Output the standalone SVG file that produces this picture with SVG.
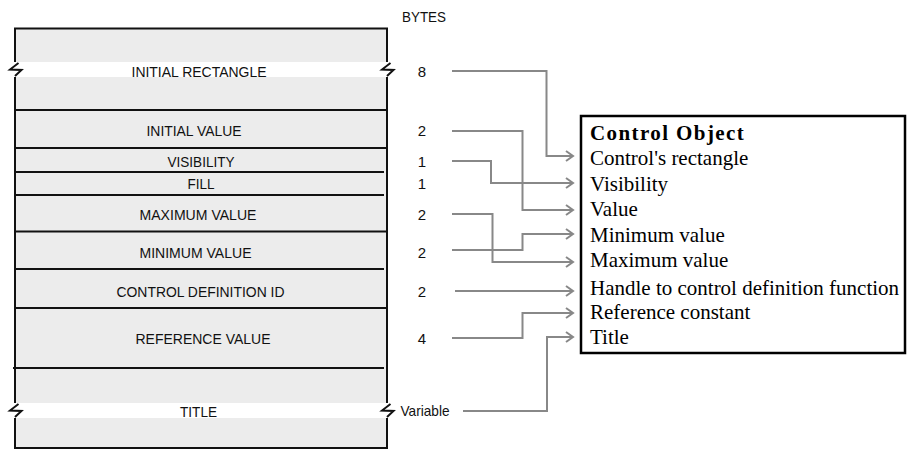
<svg xmlns="http://www.w3.org/2000/svg" width="907" height="449" viewBox="0 0 907 449">
<style>
.lbl{font-family:"Liberation Sans",Arial,sans-serif;font-size:15px;fill:#111;text-anchor:middle}
.sep{stroke:#111;stroke-width:2;fill:none}
.edge{stroke:#111;stroke-width:2;fill:none}
.conn{stroke:#888;stroke-width:2;fill:none}
.obj{font-family:"Liberation Serif","Times New Roman",serif;font-size:21px;fill:#000}
</style>
<defs>
<marker id="arr" markerUnits="userSpaceOnUse" markerWidth="12" markerHeight="14" refX="0" refY="0" orient="auto" viewBox="-10 -7 12 14">
<path d="M-7,-5 L0,0 L-7,5" fill="none" stroke="#888" stroke-width="2"/>
</marker>
</defs>
<rect width="907" height="449" fill="#fff"/>

<g id="record">
<rect x="15" y="28.5" width="372" height="33.5" fill="#ececec"/>
<rect x="15" y="77" width="372" height="326" fill="#ececec"/>
<rect x="15" y="418" width="372" height="30" fill="#ececec"/>
<path class="edge" d="M15,62 V28.5 H387 V62"/>
<path class="edge" d="M15,77 V403 M387,77 V403"/>
<path class="edge" d="M15,418 V448 H387 V418"/>
<path class="edge" d="M18.5,63 L10,69.5 L21.5,70 L15,76"/>
<path class="edge" d="M390.5,63 L382,69.5 L393.5,70 L387,76"/>
<path class="edge" d="M18.5,404 L10,410.5 L21.5,411 L15,417"/>
<path class="edge" d="M390.5,404 L382,410.5 L393.5,411 L387,417"/>
<path class="sep" d="M15,110 H387 M15,148 H387 M15,172 H384 M15,195 H384 M15,231.5 H387 M15,269 H384 M15,308 H387 M13,368 H384"/>
</g>

<g id="field-initial-rectangle"><text class="lbl" x="199" y="77" textLength="135" lengthAdjust="spacingAndGlyphs">INITIAL RECTANGLE</text><text class="lbl" x="422" y="77">8</text></g>
<g id="field-initial-value"><text class="lbl" x="194" y="135.5" textLength="95" lengthAdjust="spacingAndGlyphs">INITIAL VALUE</text><text class="lbl" x="422" y="135.5">2</text></g>
<g id="field-visibility"><text class="lbl" x="201" y="167" textLength="67" lengthAdjust="spacingAndGlyphs">VISIBILITY</text><text class="lbl" x="422" y="167">1</text></g>
<g id="field-fill"><text class="lbl" x="201" y="189" textLength="27" lengthAdjust="spacingAndGlyphs">FILL</text><text class="lbl" x="422" y="189">1</text></g>
<g id="field-maximum"><text class="lbl" x="198" y="220" textLength="117" lengthAdjust="spacingAndGlyphs">MAXIMUM VALUE</text><text class="lbl" x="422" y="220">2</text></g>
<g id="field-minimum"><text class="lbl" x="195.5" y="257.5" textLength="112" lengthAdjust="spacingAndGlyphs">MINIMUM VALUE</text><text class="lbl" x="422" y="257.5">2</text></g>
<g id="field-cdef"><text class="lbl" x="200.5" y="296.5" textLength="168" lengthAdjust="spacingAndGlyphs">CONTROL DEFINITION ID</text><text class="lbl" x="422" y="296.5">2</text></g>
<g id="field-refcon"><text class="lbl" x="203" y="344" textLength="135" lengthAdjust="spacingAndGlyphs">REFERENCE VALUE</text><text class="lbl" x="422" y="344">4</text></g>
<g id="field-title"><text class="lbl" x="198.5" y="416.5" textLength="37" lengthAdjust="spacingAndGlyphs">TITLE</text><text class="lbl" x="425" y="415.5" textLength="49" lengthAdjust="spacingAndGlyphs">Variable</text></g>
<g id="bytes-header"><text class="lbl" x="424" y="22" textLength="44" lengthAdjust="spacingAndGlyphs">BYTES</text></g>

<g id="control-object">
<rect x="581" y="116" width="324" height="237" fill="#fff" stroke="#000" stroke-width="2.5"/>
<text class="obj" x="590" y="140" font-weight="bold" letter-spacing="1.4">Control Object</text>
<text class="obj" x="590" y="165">Control's rectangle</text>
<text class="obj" x="590" y="191">Visibility</text>
<text class="obj" x="590" y="216">Value</text>
<text class="obj" x="590" y="242">Minimum value</text>
<text class="obj" x="590" y="267">Maximum value</text>
<text class="obj" x="590" y="295">Handle to control definition function</text>
<text class="obj" x="590" y="319">Reference constant</text>
<text class="obj" x="590" y="344">Title</text>
</g>

<g id="connectors">
<path class="conn" marker-end="url(#arr)" d="M452,71 H546.5 V156 H573"/>
<path class="conn" marker-end="url(#arr)" d="M452,131 H522.5 V210 H573"/>
<path class="conn" marker-end="url(#arr)" d="M452,161 H491 V183 H573"/>
<path class="conn" marker-end="url(#arr)" d="M452,214 H492.5 V262 H573"/>
<path class="conn" marker-end="url(#arr)" d="M452,250 H522.5 V234 H573"/>
<path class="conn" marker-end="url(#arr)" d="M455,291 H573"/>
<path class="conn" marker-end="url(#arr)" d="M452,338 H522.5 V313 H573"/>
<path class="conn" marker-end="url(#arr)" d="M463,411 H547 V337 H573"/>
</g>
</svg>
